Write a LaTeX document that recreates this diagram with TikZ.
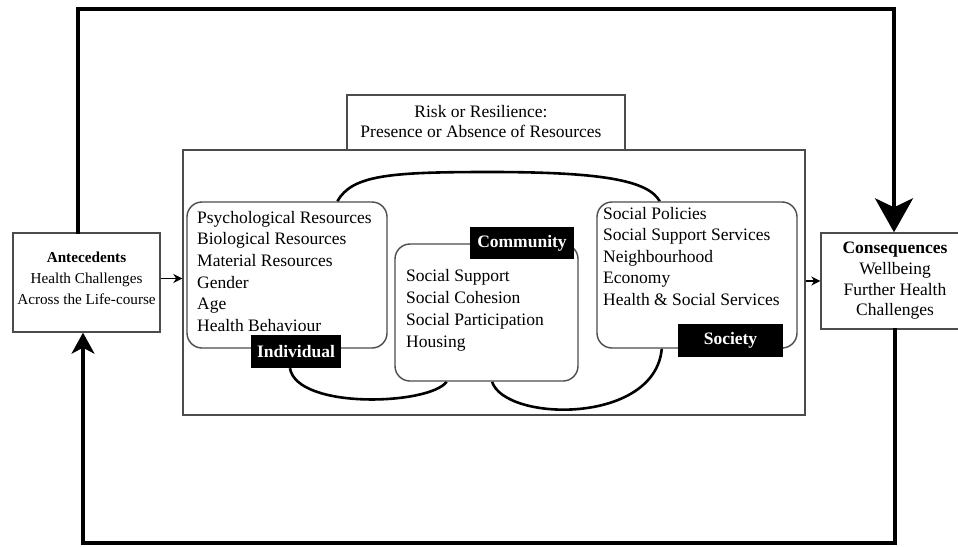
\documentclass[tikz,border=0pt]{standalone}
\usepackage{fontspec}
\setmainfont{Liberation Serif}
\usetikzlibrary{arrows.meta,calc}
\pgfdeclarelayer{bg}
\pgfsetlayers{bg,main}
\begin{document}
\begin{tikzpicture}[x=1pt,y=-1pt,
  frame/.style={draw=black!70,line width=1.4pt,inner sep=0pt},
  rbox/.style={draw=black!70,line width=1.4pt,fill=white,rounded corners=15pt,inner sep=0pt},
  body/.style={font=\fontsize{17.5}{21.6}\selectfont,align=left,inner sep=0pt,anchor=north west},
  tag/.style={fill=black,text=white,font=\fontsize{17.5}{20}\selectfont\bfseries,inner sep=0pt},
  loopline/.style={line width=3.6pt,line cap=rect},
  link/.style={line width=2.6pt},
  small/.style={line width=1.3pt,-{Stealth[length=9pt,width=9pt]}}]
\useasboundingbox (0,0) rectangle (958,546);

% outer frame and title box
\node[frame,minimum width=622pt,minimum height=265pt] (outer) at (494,282.5) {};
\node[frame,fill=white,minimum width=278pt,minimum height=55pt] (risk) at (486,122.5) {};
\node[font=\fontsize{17.5}{19.5}\selectfont,align=center,inner sep=0pt] (risktxt) at (481,121.5)
  {Risk or Resilience:\\Presence or Absence of Resources};

% resource boxes
\node[rbox,minimum width=200pt,minimum height=146pt] (ind) at (287,275) {};
\node[rbox,minimum width=183pt,minimum height=137pt] (com) at (486.5,312.5) {};
\node[rbox,minimum width=200pt,minimum height=146pt] (soc) at (697,275) {};

\node[body] (indtxt) at (197,211) {Psychological Resources\\Biological Resources\\Material Resources\\Gender\\Age\\Health Behaviour};
\node[body,font=\fontsize{17.5}{22}\selectfont] (comtxt) at (406,269) {Social Support\\Social Cohesion\\Social Participation\\Housing};
\node[body,font=\fontsize{17.5}{21.5}\selectfont] (soctxt) at (603,207) {Social Policies\\Social Support Services\\Neighbourhood\\Economy\\Health \& Social Services};

\node[tag,minimum width=90pt,minimum height=33pt] (indlab) at (296,351.5) {Individual};
\node[tag,minimum width=104pt,minimum height=32pt] (comlab) at (522,243) {Community};
\node[tag,minimum width=105pt,minimum height=33pt] (soclab) at (730.5,340.5) {Society};

\coordinate (c1a) at ($(ind.north west)!0.75!(ind.north east)$);
\coordinate (c1b) at ($(soc.north west)!0.315!(soc.north east)$);
\coordinate (c2a) at ($(indlab.south west)!0.433!(indlab.south east)$);
\coordinate (c2b) at ($(com.south west)!0.284!(com.south east)$);
\coordinate (c3a) at ($(com.south west)!0.53!(com.south east)$);
\coordinate (c3b) at ($(soc.south west)!0.325!(soc.south east)$);

% connecting curves, behind the boxes
\begin{pgfonlayer}{bg}
\fill[white] (0,0) rectangle (958,546);
\draw[link] (c1a) .. controls (352,175) and (390,172) .. (490,172)
  .. controls (600,172) and (648,180) .. (c1b);
\draw[link] (c2a) .. controls (297,410) and (430,405) .. (c2b);
\draw[link] (c3a) .. controls (505,422) and (655,425) .. (c3b);
\end{pgfonlayer}

% side boxes
\node[frame,minimum width=147pt,minimum height=99pt] (ante) at (86.5,282.5) {};
\node[font=\fontsize{15.2}{21}\selectfont,align=center,inner sep=0pt] (antetxt) at (86.5,278.5)
  {\textbf{Antecedents}\\Health Challenges\\Across the Life-course};
\node[frame,minimum width=150pt,minimum height=96pt] (cons) at (896,281) {};
\node[font=\fontsize{17.5}{20.7}\selectfont,align=center,inner sep=0pt] (constxt) at (895,281)
  {\textbf{Consequences}\\Wellbeing\\Further Health\\Challenges};

% small arrows
\draw[small] ([yshift=4pt]ante.east) -- ([yshift=4pt]ante.east -| outer.west);
\draw[small] (outer.east |- cons.center) -- (cons.west);

% feedback loops
\coordinate (tl) at (78,9);
\coordinate (tr) at (894,9);
\coordinate (bl) at (83,543);
\coordinate (br) at (895,543);
\draw[loopline,-{Stealth[length=34pt,width=38pt,inset=9pt]}] (tl |- ante.north) -- (tl) -- (tr) -- (tr |- cons.north);
\draw[loopline,line width=3.2pt,-{Stealth[length=21pt,width=23pt,inset=6pt]}] (br |- cons.south) -- (br) -- (bl) -- (bl |- ante.south);
\end{tikzpicture}
\end{document}
